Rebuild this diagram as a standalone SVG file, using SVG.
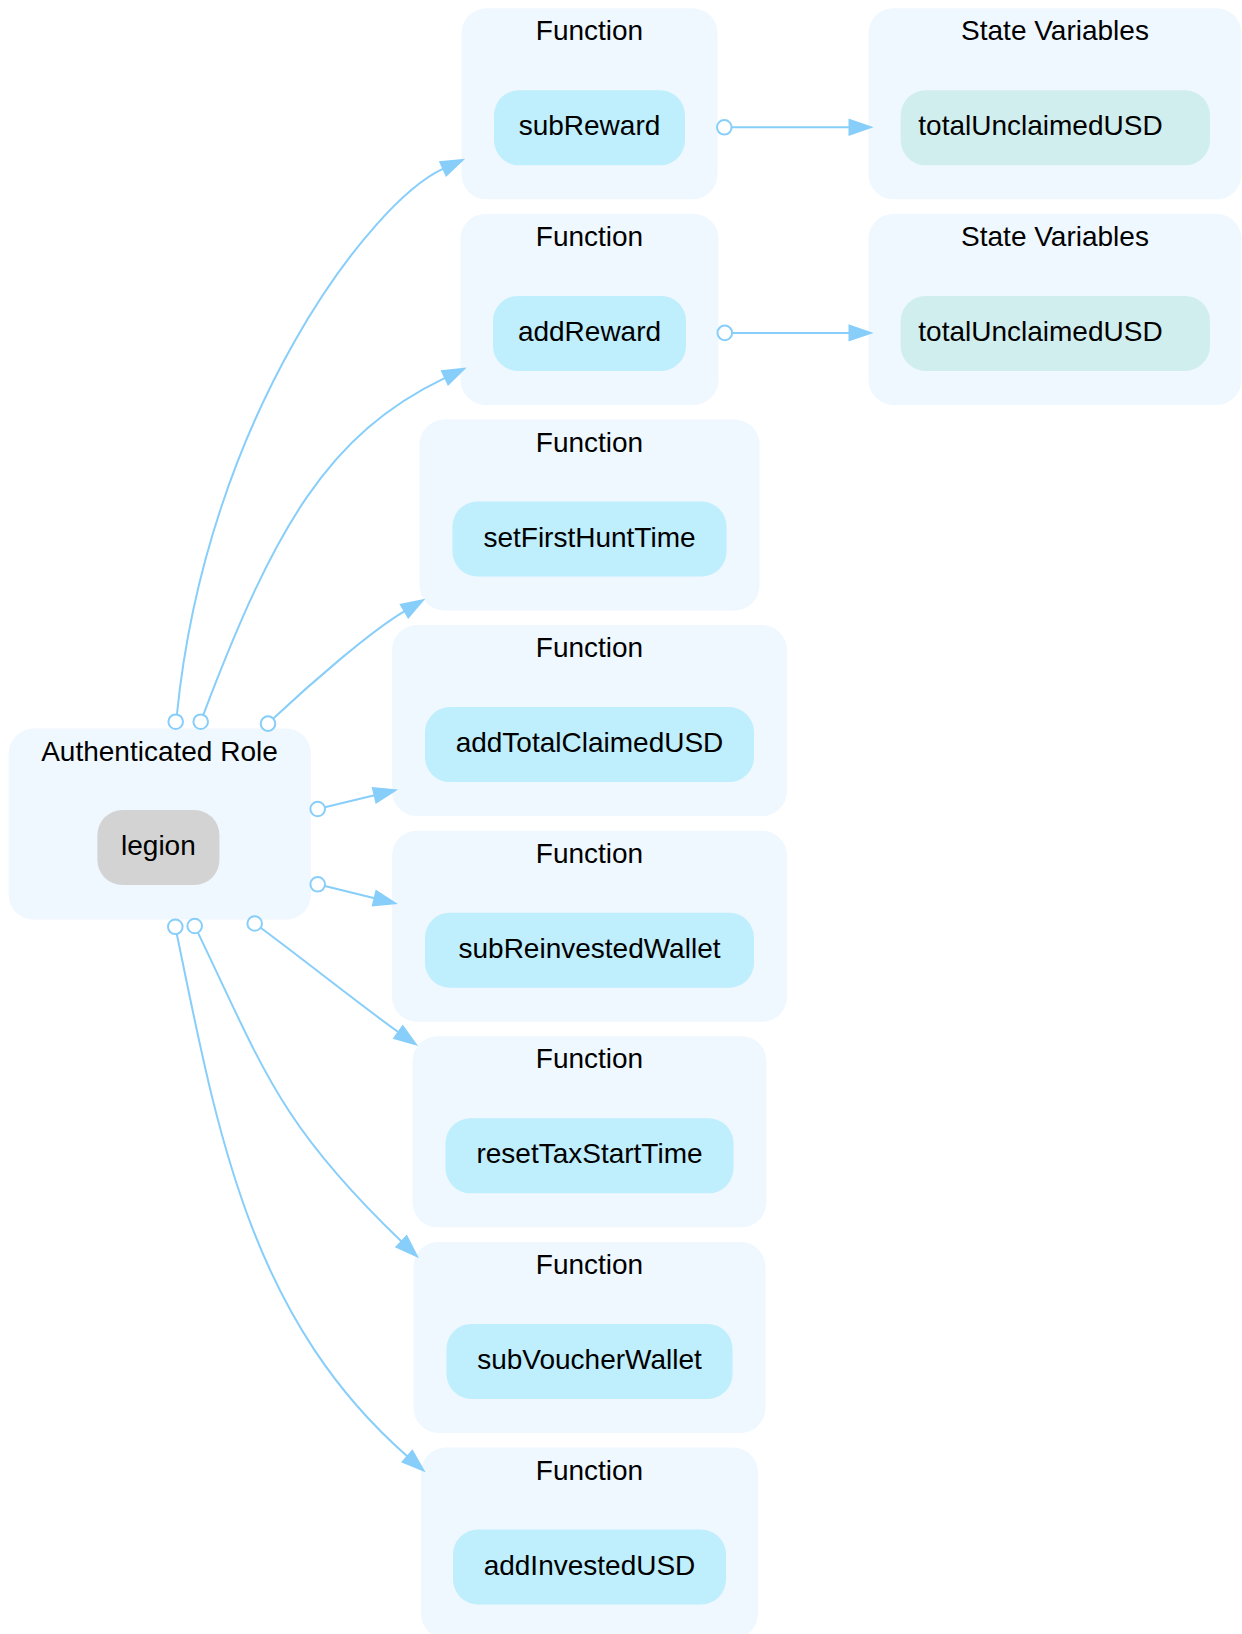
<svg xmlns="http://www.w3.org/2000/svg" width="1242" height="1634" viewBox="0 0 1242 1634">
  <style>
    text { font-family: "Liberation Sans", Arial, sans-serif; font-size: 28px; fill: #000000; }
    .title { text-anchor: middle; }
    .label { text-anchor: middle; }
    .cluster { fill: #eff7ff; stroke: none; }
    .fn { fill: #bfeefd; stroke: none; }
    .sv { fill: #d1eeee; stroke: none; }
    .role { fill: #d3d3d3; stroke: none; }
    .edge { fill: none; stroke: #87cefa; stroke-width: 2; }
    .head { fill: #87cefa; stroke: #87cefa; stroke-width: 2; stroke-linejoin: miter; }
    .tail { fill: #ffffff; stroke: #87cefa; stroke-width: 2; }
  </style>
  <rect x="0" y="0" width="1242" height="1634" fill="#ffffff"/>

  <!-- role cluster -->
  <g id="role_legion">
    <rect class="cluster" x="8.7" y="728.6" width="302.3" height="191" rx="25"/>
    <text class="title" x="159.5" y="760.6">Authenticated Role</text>
    <rect class="role" x="97.4" y="810" width="122" height="75" rx="25"/>
    <text class="label" x="158.4" y="855">legion</text>
  </g>

  <!-- function clusters -->
  <g id="fn_subReward">
    <rect class="cluster" x="461.5" y="8.3" width="256" height="191" rx="25"/>
    <text class="title" x="589.5" y="40.3">Function</text>
    <rect class="fn" x="494" y="90.3" width="191" height="75" rx="25"/>
    <text class="label" x="589.5" y="135.3">subReward</text>
  </g>
  <g id="fn_addReward">
    <rect class="cluster" x="460.5" y="213.9" width="258" height="191" rx="25"/>
    <text class="title" x="589.5" y="245.9">Function</text>
    <rect class="fn" x="493" y="295.9" width="193" height="75" rx="25"/>
    <text class="label" x="589.5" y="340.9">addReward</text>
  </g>
  <g id="fn_setFirstHuntTime">
    <rect class="cluster" x="419.5" y="419.5" width="340" height="191" rx="25"/>
    <text class="title" x="589.5" y="451.5">Function</text>
    <rect class="fn" x="452.5" y="501.5" width="274" height="75" rx="25"/>
    <text class="label" x="589.5" y="546.5">setFirstHuntTime</text>
  </g>
  <g id="fn_addTotalClaimedUSD">
    <rect class="cluster" x="392" y="625.1" width="395" height="191" rx="25"/>
    <text class="title" x="589.5" y="657.1">Function</text>
    <rect class="fn" x="425" y="707.1" width="329" height="75" rx="25"/>
    <text class="label" x="589.5" y="752.1">addTotalClaimedUSD</text>
  </g>
  <g id="fn_subReinvestedWallet">
    <rect class="cluster" x="392" y="830.7" width="395" height="191" rx="25"/>
    <text class="title" x="589.5" y="862.7">Function</text>
    <rect class="fn" x="425" y="912.7" width="329" height="75" rx="25"/>
    <text class="label" x="589.5" y="957.7">subReinvestedWallet</text>
  </g>
  <g id="fn_resetTaxStartTime">
    <rect class="cluster" x="412.5" y="1036.3" width="354" height="191" rx="25"/>
    <text class="title" x="589.5" y="1068.3">Function</text>
    <rect class="fn" x="445.5" y="1118.3" width="288" height="75" rx="25"/>
    <text class="label" x="589.5" y="1163.3">resetTaxStartTime</text>
  </g>
  <g id="fn_subVoucherWallet">
    <rect class="cluster" x="413.5" y="1241.9" width="352" height="191" rx="25"/>
    <text class="title" x="589.5" y="1273.9">Function</text>
    <rect class="fn" x="446.5" y="1323.9" width="286" height="75" rx="25"/>
    <text class="label" x="589.5" y="1368.9">subVoucherWallet</text>
  </g>
  <g id="fn_addInvestedUSD">
    <rect class="cluster" x="421" y="1447.5" width="337" height="191" rx="25"/>
    <text class="title" x="589.5" y="1479.5">Function</text>
    <rect class="fn" x="453" y="1529.5" width="273" height="75" rx="25"/>
    <text class="label" x="589.5" y="1574.5">addInvestedUSD</text>
  </g>

  <!-- state variable clusters -->
  <g id="sv_totalUnclaimedUSD_1">
    <rect class="cluster" x="868.5" y="8.3" width="373" height="191" rx="25"/>
    <text class="title" x="1055" y="40.3">State Variables</text>
    <rect class="sv" x="900.7" y="90.3" width="309.3" height="75" rx="25"/>
    <text x="918.3" y="135.3">totalUnclaimedUSD</text>
  </g>
  <g id="sv_totalUnclaimedUSD_2">
    <rect class="cluster" x="868.5" y="213.9" width="373" height="191" rx="25"/>
    <text class="title" x="1055" y="245.9">State Variables</text>
    <rect class="sv" x="900.7" y="295.9" width="309.3" height="75" rx="25"/>
    <text x="918.3" y="340.9">totalUnclaimedUSD</text>
  </g>

  <!-- connectors -->
  <g id="connectors">
    <!-- legion -> subReward -->
    <path class="edge" d="M176.9,714.5 C206.9,416 370.6,202 443.3,168.7"/>
    <polygon class="head" points="462.4,160 446.3,175.3 440.3,162.1"/>
    <circle class="tail" cx="175.7" cy="721.7" r="7.3"/>

    <!-- legion -> addReward -->
    <path class="edge" d="M203.3,714.9 C274.1,527.9 328.1,433.7 445.1,377.8"/>
    <polygon class="head" points="464,368.8 448.2,384.4 442,371.2"/>
    <circle class="tail" cx="200.7" cy="721.7" r="7.3"/>

    <!-- legion -> setFirstHuntTime -->
    <path class="edge" d="M273.3,718.6 C309.7,684.3 370.2,631.5 404.6,611.1"/>
    <polygon class="head" points="422.7,600.4 408.3,617.4 400.9,604.8"/>
    <circle class="tail" cx="268" cy="723.6" r="7.3"/>

    <!-- legion -> addTotalClaimedUSD -->
    <path class="edge" d="M324.8,807.3 L374.6,795.2"/>
    <polygon class="head" points="395,790.3 376.3,802.3 372.9,788.1"/>
    <circle class="tail" cx="317.7" cy="809" r="7.3"/>

    <!-- legion -> subReinvestedWallet -->
    <path class="edge" d="M324.8,886 L374.6,898.3"/>
    <polygon class="head" points="395,903.3 372.9,905.4 376.3,891.2"/>
    <circle class="tail" cx="317.7" cy="884.3" r="7.3"/>

    <!-- legion -> resetTaxStartTime -->
    <path class="edge" d="M260.6,927.8 C296.9,954.4 365.8,1009.2 398.5,1032.2"/>
    <polygon class="head" points="415.7,1044.3 394.3,1038.2 402.7,1026.2"/>
    <circle class="tail" cx="254.7" cy="923.5" r="7.3"/>

    <!-- legion -> subVoucherWallet -->
    <path class="edge" d="M197.9,932.6 C263,1067.8 278.8,1123.9 401.5,1241.5"/>
    <polygon class="head" points="416.7,1256 396.5,1246.8 406.6,1236.2"/>
    <circle class="tail" cx="194.7" cy="926" r="7.3"/>

    <!-- legion -> addInvestedUSD -->
    <path class="edge" d="M176.8,933.95 C217.2,1129.95 249.6,1318 407.5,1456.4"/>
    <polygon class="head" points="423.3,1470.2 402.7,1461.9 412.3,1450.9"/>
    <circle class="tail" cx="175.3" cy="926.8" r="7.3"/>

    <!-- subReward -> totalUnclaimedUSD -->
    <path class="edge" d="M731.6,127.3 L849.5,127.3"/>
    <polygon class="head" points="870.5,127.3 849.5,120 849.5,134.6"/>
    <circle class="tail" cx="724.3" cy="127.3" r="7.3"/>

    <!-- addReward -> totalUnclaimedUSD -->
    <path class="edge" d="M732.1,332.9 L849.5,332.9"/>
    <polygon class="head" points="870.5,332.9 849.5,325.6 849.5,340.2"/>
    <circle class="tail" cx="724.8" cy="332.9" r="7.3"/>
  </g>
</svg>
